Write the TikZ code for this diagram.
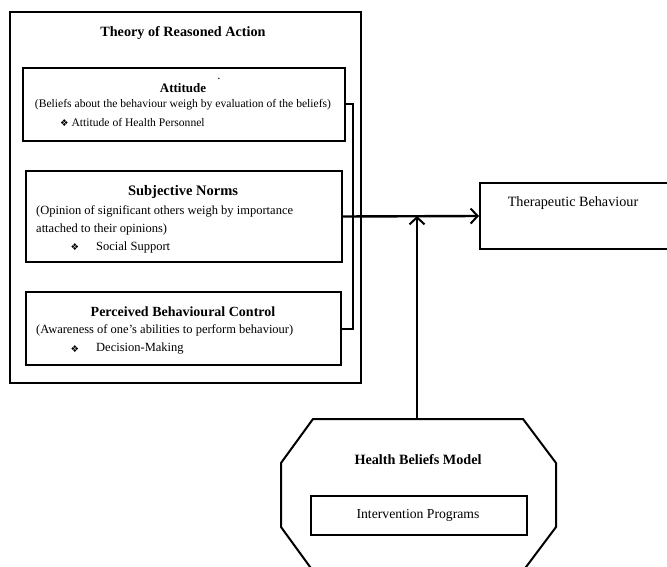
\documentclass[tikz,border=0pt]{standalone}
\usepackage{fontspec}
\setmainfont{Liberation Serif}
\newfontfamily\symfont{DejaVu Sans}
\usetikzlibrary{arrows.meta}

\newcommand{\bul}{{\symfont\fontsize{9.5}{10}\selectfont\char"2756}}

\begin{document}
\begin{tikzpicture}[x=1pt, y=-1pt,
  box/.style={draw, line width=2pt, inner sep=0pt},
  thinbox/.style={draw, line width=1.5pt, inner sep=0pt},
  txt/.style={inner sep=0pt, font=\fontsize{12.5}{13}\selectfont},
  head/.style={inner sep=0pt, font=\fontsize{14}{15}\selectfont\bfseries},
  arr/.style={line width=2.4pt, -{Straight Barb[length=7pt, width=15pt, line width=2pt]}}]
\useasboundingbox (0,0) rectangle (667,567);
\clip (0,0) rectangle (667,567);
% Theory of Reasoned Action
\node (tra) [box, minimum width=351pt, minimum height=371pt] at (185.5,197.5) {};
\node (tratitle) [head, font=\fontsize{14.2}{15}\selectfont\bfseries] at (183,33) {Theory of Reasoned Action};
% attitude
\node (att) [box, minimum width=322pt, minimum height=73pt] at (184,104.5) {};
\node (atttitle) [head, font=\fontsize{13}{14}\selectfont\bfseries] at (183,88) {Attitude};
\node (attdot) [txt] at (219,79) {.};
\node (attdesc) [txt, font=\fontsize{11.6}{12}\selectfont] at (183,105) {(Beliefs about the behaviour weigh by evaluation of the beliefs)};
\node (attitem) [txt, anchor=west, font=\fontsize{11.6}{12}\selectfont] at (60,122) {\bul\ Attitude of Health Personnel};
% subjective norms
\node (sn) [box, minimum width=316pt, minimum height=91pt] at (184,216.5) {};
\node (sntitle) [head, font=\fontsize{14.5}{15}\selectfont\bfseries] at (183,192) {Subjective Norms};
\node (sndesc1) [txt, anchor=west] at (36,211) {(Opinion of significant others weigh by importance};
\node (sndesc2) [txt, anchor=west] at (36,229) {attached to their opinions)};
\node (snbul) [txt] at (75,247) {\bul};
\node (snitem) [txt, anchor=west] at (96,247) {Social Support};
% perceived behavioural control
\node (pbc) [box, minimum width=315pt, minimum height=73pt] at (183.5,328.5) {};
\node (pbctitle) [head] at (183,312) {Perceived Behavioural Control};
\node (pbcdesc) [txt, anchor=west] at (36,330) {(Awareness of one's abilities to perform behaviour)};
\node (pbcbul) [txt] at (75,349) {\bul};
\node (pbcitem) [txt, anchor=west] at (96,349) {Decision-Making};
% bracket joining the three boxes
\coordinate (brk) at (353,216);
\draw [line width=2pt] (att.east) -| (brk) |- (pbc.east);
% therapeutic behaviour
\node (tb) [box, minimum width=190pt, minimum height=66pt] at (575,216) {};
\node (tbtitle) [txt, font=\fontsize{14.2}{15}\selectfont] at (573,203) {Therapeutic Behaviour};
% health beliefs model
\draw [line width=2pt] (313,419) -- (523,419) -- (556,463) -- (556,527)
  -- (523,571) -- (313,571) -- (281,527) -- (281,463) -- cycle;
\coordinate (hbm) at (417,419);
\node (hbmtitle) [head, font=\fontsize{14.2}{15}\selectfont\bfseries] at (418,460) {Health Beliefs Model};
\node (ip) [thinbox, minimum width=216pt, minimum height=39pt] at (419,515.5) {};
\node (iptitle) [txt, font=\fontsize{13.7}{14}\selectfont] at (418,515) {Intervention Programs};
% connectors
\coordinate (join) at (417,216);
\draw [arr] (sn.east) -- (tb.west);
\draw [arr] (hbm) -- (join);
\end{tikzpicture}
\end{document}
